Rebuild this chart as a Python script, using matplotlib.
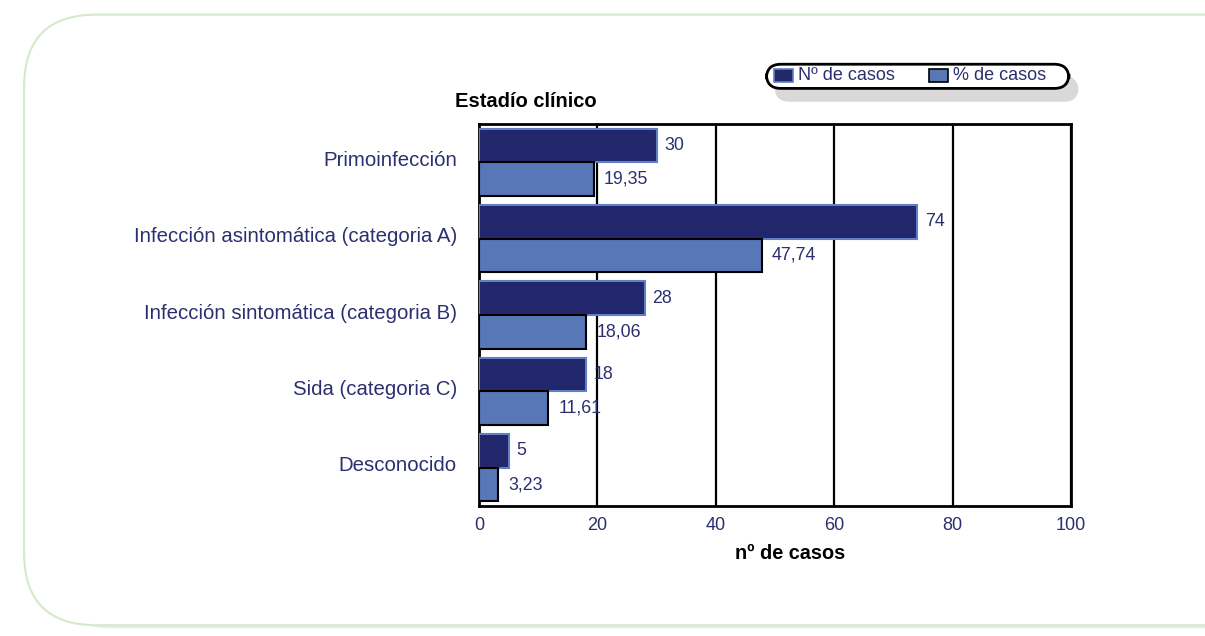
import matplotlib.pyplot as plt
import numpy as np
from matplotlib.patches import FancyBboxPatch

plt.rcParams['font.family'] = ['Liberation Sans', 'DejaVu Sans']

categories = ['Primoinfección', 'Infección asintomática (categoria A)',
              'Infección sintomática (categoria B)', 'Sida (categoria C)', 'Desconocido']
n_casos = [30, 74, 28, 18, 5]
pct_casos = [19.35, 47.74, 18.06, 11.61, 3.23]

navy = '#22266a'
blue = '#5777b6'
txt = '#2b2f6f'

fig = plt.figure(figsize=(12.05, 6.36), dpi=100)

# rounded panel background
fig.patches.append(FancyBboxPatch((0.035, 0.012), 1.2, 0.95, boxstyle='round,pad=0,rounding_size=0.06',
                                  transform=fig.transFigure, facecolor='#ebebeb', edgecolor='none',
                                  mutation_aspect=1205 / 636, zorder=-2))
fig.patches.append(FancyBboxPatch((0.02, 0.017), 1.2, 0.96, boxstyle='round,pad=0,rounding_size=0.06',
                                  transform=fig.transFigure, facecolor='white', edgecolor='#d6e9c9',
                                  linewidth=1.5, mutation_aspect=1205 / 636, zorder=-1))

ax = fig.add_axes([0.3975, 0.2044, 0.4913, 0.6006])
ax.set_facecolor('none')

y = np.arange(len(categories))
h = 0.44
ax.barh(y - h / 2, n_casos, height=h, color=navy, edgecolor='#5f80c6', linewidth=1.5, zorder=3)
ax.barh(y + h / 2, pct_casos, height=h, color=blue, edgecolor='black', linewidth=1.5, zorder=3)

for yi, v in zip(y, n_casos):
    ax.annotate(f'{v}', (v, yi - h / 2), xytext=(5.5, 0), textcoords='offset points',
                va='center', ha='left', color=txt, fontsize=12.8)
for yi, v in zip(y, pct_casos):
    ax.annotate(f'{v:.2f}'.replace('.', ','), (v, yi + h / 2), xytext=(7.5, 0), textcoords='offset points',
                va='center', ha='left', color=txt, fontsize=12.8)

ax.set_xlim(0, 100)
ax.set_ylim(len(categories) - 0.5, -0.5)
ax.set_xticks([0, 20, 40, 60, 80, 100])
ax.set_yticks(y - 0.05)
ax.set_yticklabels(categories)
ax.tick_params(length=0, colors=txt, labelsize=13, pad=8)
ax.tick_params(axis='y', labelsize=14.7, pad=16)
ax.grid(axis='x', color='black', linewidth=1.6, zorder=1)
for s in ax.spines.values():
    s.set_linewidth(2)
    s.set_color('black')
ax.set_xlabel('nº de casos', fontsize=14.3, fontweight='bold', labelpad=8)
ax.xaxis.set_label_coords(0.525, -0.1)

fig.text(0.378, 0.84, 'Estadío clínico', fontsize=14.5, fontweight='bold', ha='left', va='center')

# legend box with shadow
fig.patches.append(FancyBboxPatch((0.643, 0.84), 0.252, 0.04, boxstyle='round,pad=0,rounding_size=0.012',
                                  transform=fig.transFigure, facecolor='#d9d9d9', edgecolor='none',
                                  mutation_aspect=1205 / 636))
fig.patches.append(FancyBboxPatch((0.636, 0.861), 0.251, 0.038, boxstyle='round,pad=0,rounding_size=0.012',
                                  transform=fig.transFigure, facecolor='white', edgecolor='black',
                                  linewidth=2, mutation_aspect=1205 / 636))
fig.patches.append(plt.Rectangle((0.642, 0.871), 0.016, 0.02, transform=fig.transFigure,
                                 facecolor=navy, edgecolor='#5f80c6', linewidth=1.2))
fig.text(0.662, 0.881, 'Nº de casos', fontsize=13, color=txt, va='center')
fig.patches.append(plt.Rectangle((0.771, 0.871), 0.016, 0.02, transform=fig.transFigure,
                                 facecolor=blue, edgecolor='black', linewidth=1.2))
fig.text(0.791, 0.881, '% de casos', fontsize=13, color=txt, va='center')

fig.savefig('out.png', dpi=100)
